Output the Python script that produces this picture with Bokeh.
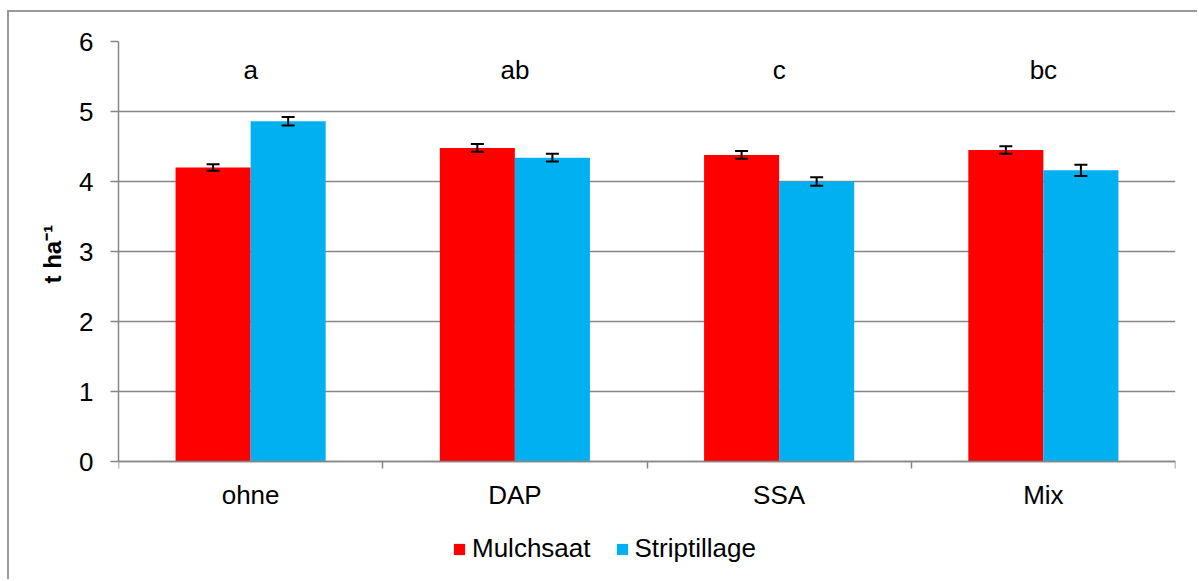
from bokeh.plotting import figure
from bokeh.models import (Range1d, FixedTicker, Legend, LegendItem, ColumnDataSource,
                          Whisker, TeeHead, Title)
from bokeh.core.properties import value
from bokeh.embed import file_html
from bokeh.resources import INLINE

categories = ["ohne", "DAP", "SSA", "Mix"]
series_names = ["Mulchsaat", "Striptillage"]
mulchsaat = [4.20, 4.48, 4.38, 4.45]
mulchsaat_err = [0.045, 0.055, 0.055, 0.055]
striptillage = [4.86, 4.34, 4.00, 4.16]
striptillage_err = [0.06, 0.055, 0.06, 0.08]
letters = ["a", "ab", "c", "bc"]
letter_y = 5.59
colors = ["#FF0000", "#00B0F0"]
y_ticks = [0, 1, 2, 3, 4, 5, 6]
y_label = "t ha⁻¹"

FONT = "Liberation Sans"
FS = "26px"
GRID = "#868686"

# layout: plot area for 0..6 is 420 px; frame extends below 0 to hold legend
H, TOP, BOT = 569, 29, 2
frame_h = H - TOP - BOT
y_start = -6.0 * (frame_h - 420) / 420

p = figure(width=1190, height=H, output_backend="svg", toolbar_location=None,
           x_range=Range1d(0, len(categories)), y_range=Range1d(y_start, 6),
           min_border_left=109, min_border_right=24, min_border_top=TOP,
           min_border_bottom=BOT)
p.styles = {"border-left": "2px solid #999999", "border-top": "2px solid #999999",
            "margin-top": "10px", "margin-left": "7px"}
p.outline_line_color = None
p.background_fill_color = "white"

centers = [i + 0.5 for i in range(len(categories))]
bw = 0.284
off = bw / 2

renderers = []
for k, (vals, errs) in enumerate([(mulchsaat, mulchsaat_err), (striptillage, striptillage_err)]):
    xs = [c + (off if k == 1 else -off) for c in centers]
    src = ColumnDataSource(dict(x=xs, top=vals,
                                lo=[v - e for v, e in zip(vals, errs)],
                                hi=[v + e for v, e in zip(vals, errs)]))
    r = p.vbar(x="x", top="top", width=bw, bottom=0, source=src,
               fill_color=colors[k], line_color=None)
    renderers.append(r)
    w = Whisker(base="x", lower="lo", upper="hi", source=src, level="annotation",
                line_color="black", line_width=2,
                upper_head=TeeHead(size=13, line_color="black", line_width=2),
                lower_head=TeeHead(size=13, line_color="black", line_width=2))
    p.add_layout(w)

p.text(x=centers, y=[letter_y] * len(letters), text=letters,
       text_align="center", text_baseline="middle",
       text_font=value(FONT), text_font_size=FS, text_color="black")

# x axis, fixed at y = 0
p.xaxis.fixed_location = 0
p.xaxis.ticker = FixedTicker(ticks=centers, minor_ticks=list(range(len(categories) + 1)))
p.xaxis.major_label_overrides = {c: n for c, n in zip(centers, categories)}
p.xaxis.major_tick_out = 0
p.xaxis.major_tick_in = 0
p.xaxis.minor_tick_out = 7
p.xaxis.minor_tick_in = 0
p.xaxis.minor_tick_line_color = GRID
p.xaxis.minor_tick_line_width = 1.5
p.xaxis.axis_line_color = GRID
p.xaxis.axis_line_width = 1.5
p.xaxis.major_label_text_font = FONT
p.xaxis.major_label_text_font_size = FS
p.xaxis.major_label_text_color = "black"
p.xaxis.major_label_standoff = 11

# y axis
p.yaxis.bounds = (0, 6)
p.yaxis.ticker = FixedTicker(ticks=y_ticks)
p.yaxis.minor_tick_line_color = None
p.yaxis.major_tick_out = 8
p.yaxis.major_tick_in = 0
p.yaxis.major_tick_line_color = GRID
p.yaxis.major_tick_line_width = 1.5
p.yaxis.axis_line_color = GRID
p.yaxis.axis_line_width = 1.5
p.yaxis.major_label_text_font = FONT
p.yaxis.major_label_text_font_size = FS
p.yaxis.major_label_text_color = "black"
p.yaxis.major_label_standoff = 17

ytitle = Title(text=y_label, align="left", offset=296, standoff=22,
               text_font=FONT, text_font_style="bold", text_font_size="24px",
               text_color="black")
p.add_layout(ytitle, "left")

p.xgrid.grid_line_color = None
p.ygrid.ticker = FixedTicker(ticks=y_ticks)
p.ygrid.grid_line_color = GRID
p.ygrid.grid_line_width = 1.5

legend = Legend(items=[LegendItem(label=n, renderers=[r]) for n, r in zip(series_names, renderers)],
                orientation="horizontal", location=(334, 15),
                label_text_font=FONT, label_text_font_size=FS, label_text_color="black",
                glyph_width=14, glyph_height=14, label_standoff=6, spacing=24,
                border_line_color=None, background_fill_alpha=0, margin=0, padding=6)
p.add_layout(legend, "center")

open("out.html", "w").write(file_html(p, INLINE))
